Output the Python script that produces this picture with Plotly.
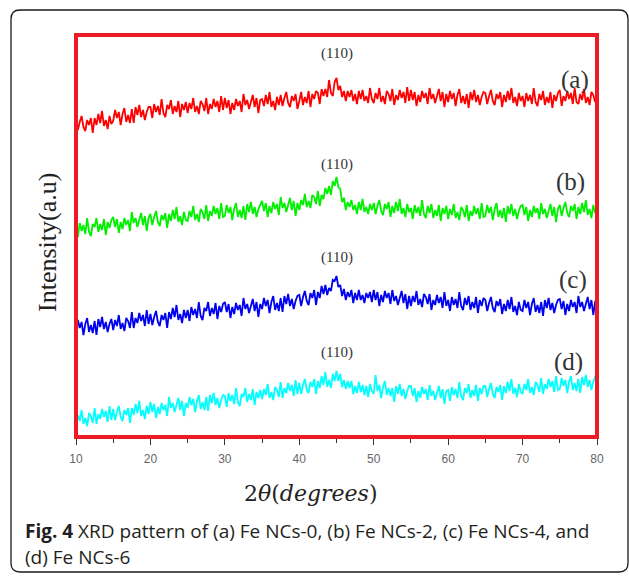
import numpy as np
import plotly.graph_objects as go

# XRD scans, 2-theta from 10 to 80 degrees in 0.25 degree steps (each row = 5 degrees)
fe_ncs_0 = [
    318, 307, 315, 321, 310, 306, 317, 312, 319, 304, 319, 312, 323, 314, 326, 311, 317, 308, 321, 313,
    316, 327, 319, 325, 312, 323, 329, 315, 322, 314, 328, 314, 330, 322, 332, 320, 327, 317, 325, 330,
    330, 319, 333, 325, 331, 322, 338, 324, 320, 332, 328, 337, 323, 331, 325, 336, 320, 333, 327, 335,
    324, 334, 328, 339, 325, 331, 323, 336, 333, 326, 339, 323, 333, 328, 338, 330, 336, 325, 341, 327,
    339, 329, 337, 323, 334, 327, 338, 331, 336, 325, 343, 332, 337, 328, 335, 342, 330, 339, 324, 337,
    338, 331, 342, 333, 345, 330, 336, 327, 340, 332, 342, 331, 339, 345, 334, 330, 341, 336, 343, 328,
    336, 345, 332, 340, 334, 346, 330, 343, 338, 346, 344, 333, 348, 341, 348, 340, 357, 344, 341, 355,
    359, 347, 351, 340, 346, 336, 346, 340, 347, 336, 343, 333, 346, 338, 347, 336, 341, 334, 349, 338,
    334, 344, 338, 349, 335, 341, 333, 346, 343, 336, 348, 332, 342, 337, 347, 339, 345, 334, 350, 336,
    347, 337, 345, 331, 342, 335, 346, 339, 344, 333, 349, 338, 343, 334, 341, 348, 336, 345, 330, 343,
    335, 346, 338, 344, 331, 342, 348, 334, 341, 333, 343, 329, 345, 337, 347, 335, 342, 332, 340, 345,
    344, 333, 341, 347, 336, 332, 343, 338, 345, 330, 342, 335, 346, 337, 349, 334, 340, 331, 344, 336,
    341, 330, 344, 336, 342, 333, 349, 335, 331, 343, 337, 346, 332, 340, 334, 345, 329, 342, 336, 344,
    347, 331, 341, 336, 346, 338, 344, 333, 349, 335, 333, 343, 337, 348, 334, 340, 332, 345, 342, 335,
    342,
]
fe_ncs_2 = [
    211, 200, 214, 206, 212, 203, 219, 205, 201, 213, 210, 219, 205, 213, 207, 218, 202, 215, 209, 217,
    220, 210, 218, 204, 215, 208, 219, 212, 217, 206, 225, 214, 219, 210, 217, 224, 212, 221, 206, 219,
    223, 212, 220, 226, 215, 211, 222, 217, 224, 209, 223, 216, 227, 218, 230, 215, 221, 212, 225, 217,
    216, 226, 220, 231, 217, 223, 215, 228, 225, 218, 232, 216, 226, 221, 231, 223, 229, 218, 234, 220,
    221, 232, 224, 230, 217, 228, 234, 220, 227, 219, 231, 217, 233, 225, 235, 223, 230, 220, 228, 233,
    236, 226, 234, 220, 231, 224, 235, 228, 233, 222, 240, 229, 234, 225, 232, 239, 227, 236, 221, 234,
    227, 237, 232, 243, 230, 236, 229, 242, 240, 233, 246, 231, 242, 238, 249, 243, 251, 242, 256, 251,
    260, 250, 248, 235, 239, 227, 235, 230, 237, 227, 232, 223, 235, 227, 238, 225, 230, 223, 233, 227,
    234, 223, 231, 237, 226, 222, 233, 228, 235, 220, 231, 224, 235, 226, 238, 223, 229, 220, 233, 225,
    229, 218, 232, 224, 230, 221, 237, 223, 219, 231, 224, 233, 219, 227, 221, 232, 216, 229, 223, 231,
    218, 228, 222, 233, 219, 225, 217, 230, 227, 220, 232, 216, 226, 221, 231, 223, 229, 218, 234, 220,
    221, 232, 224, 230, 217, 228, 234, 220, 227, 219, 229, 215, 231, 223, 233, 221, 228, 218, 226, 231,
    232, 222, 230, 216, 227, 220, 231, 224, 229, 218, 234, 223, 228, 219, 226, 233, 221, 230, 215, 228,
    232, 221, 229, 235, 224, 220, 231, 226, 233, 218, 230, 223, 234, 225, 237, 222, 228, 219, 232, 224,
    238,
]
fe_ncs_4 = [
    106, 117, 109, 115, 102, 113, 119, 105, 112, 104, 116, 102, 118, 110, 120, 108, 115, 105, 113, 118,
    107, 117, 111, 122, 108, 114, 106, 119, 116, 109, 125, 109, 119, 114, 124, 116, 122, 111, 127, 113,
    123, 112, 120, 126, 115, 111, 122, 117, 124, 109, 125, 118, 129, 120, 132, 117, 123, 114, 127, 119,
    127, 116, 130, 122, 128, 119, 135, 121, 117, 129, 126, 135, 121, 129, 123, 134, 118, 131, 125, 133,
    135, 125, 133, 119, 130, 123, 134, 127, 132, 121, 139, 128, 133, 124, 131, 138, 126, 135, 120, 133,
    128, 139, 131, 137, 124, 135, 141, 127, 134, 126, 139, 125, 141, 133, 143, 131, 138, 128, 136, 141,
    142, 131, 140, 146, 136, 132, 144, 139, 147, 132, 145, 139, 151, 143, 152, 142, 149, 146, 157, 156,
    161, 150, 152, 141, 148, 137, 145, 140, 147, 134, 144, 137, 147, 137, 142, 134, 144, 139, 145, 135,
    147, 137, 145, 131, 142, 135, 146, 139, 144, 133, 147, 136, 141, 132, 139, 146, 134, 143, 128, 141,
    131, 141, 135, 146, 132, 138, 130, 143, 140, 133, 143, 127, 137, 132, 142, 134, 140, 129, 145, 131,
    137, 126, 140, 132, 138, 129, 145, 131, 127, 139, 132, 141, 127, 135, 129, 140, 124, 137, 131, 139,
    137, 126, 134, 140, 129, 125, 136, 131, 138, 123, 133, 126, 137, 128, 140, 125, 131, 122, 135, 127,
    126, 137, 129, 135, 122, 133, 139, 125, 132, 124, 135, 121, 137, 129, 139, 127, 134, 124, 132, 137,
    138, 128, 136, 122, 133, 126, 137, 130, 135, 124, 141, 130, 135, 126, 133, 140, 128, 137, 122, 135,
    134,
]
fe_ncs_6 = [
    12, 22, 16, 27, 13, 19, 11, 24, 21, 14, 29, 13, 23, 18, 28, 20, 26, 15, 31, 17,
    28, 17, 25, 31, 20, 16, 27, 22, 29, 14, 29, 22, 33, 24, 36, 21, 27, 18, 31, 23,
    35, 25, 33, 19, 30, 23, 34, 27, 32, 21, 40, 29, 34, 25, 32, 39, 27, 36, 21, 34,
    29, 40, 32, 38, 25, 36, 42, 28, 35, 27, 40, 26, 42, 34, 44, 32, 39, 29, 37, 42,
    41, 30, 44, 36, 42, 33, 49, 35, 31, 43, 40, 49, 35, 43, 37, 48, 32, 45, 39, 47,
    38, 48, 42, 53, 39, 45, 37, 50, 47, 40, 55, 39, 49, 44, 54, 46, 52, 41, 57, 43,
    54, 43, 52, 58, 47, 44, 55, 50, 58, 43, 56, 49, 61, 52, 65, 50, 57, 49, 63, 56,
    66, 56, 63, 50, 57, 48, 56, 49, 56, 43, 51, 44, 55, 45, 52, 42, 51, 40, 53, 46,
    43, 62, 46, 52, 39, 50, 56, 42, 49, 41, 49, 35, 51, 43, 53, 41, 48, 38, 46, 51,
    51, 41, 49, 35, 46, 39, 50, 43, 48, 37, 52, 41, 46, 37, 44, 51, 39, 48, 33, 46,
    47, 36, 50, 42, 48, 39, 55, 41, 37, 49, 44, 53, 39, 47, 41, 52, 36, 49, 43, 51,
    51, 40, 48, 54, 43, 39, 50, 45, 52, 37, 51, 44, 55, 46, 58, 43, 49, 40, 53, 45,
    43, 53, 47, 58, 44, 50, 42, 55, 52, 45, 59, 43, 53, 48, 58, 50, 56, 45, 61, 47,
    48, 59, 51, 57, 44, 55, 61, 47, 54, 46, 58, 44, 60, 52, 62, 50, 57, 47, 55, 60,
    58,
]

series = [fe_ncs_0, fe_ncs_2, fe_ncs_4, fe_ncs_6]
series_tags = ["(a)", "(b)", "(c)", "(d)"]
series_colors = ["#ff0000", "#00f000", "#0000f0", "#00ffff"]
peak_label = "(110)"
peak_pos = 45.0
x_ticks = [10, 20, 30, 40, 50, 60, 70, 80]
x_tick_text = ["10", "20", "30", "40", "50", "60", "70", "80"]

W, H = 629, 576
L, R, T, B = 76, 597, 35, 437


def px(x):
    return (x - L) / (R - L)


def py(y):
    return (B - y) / (B - T)


fig = go.Figure()
for ys, col in zip(series, series_colors):
    tt = np.linspace(10, 80, len(ys))
    fig.add_trace(go.Scatter(x=tt, y=ys, mode="lines",
                             line=dict(color=col, width=1.8),
                             hoverinfo="skip", showlegend=False))

serif = "Liberation Serif, Times New Roman, serif"
ann = []
# (110) markers and sample tags
for tag_y, peak_y, tag, tx in zip([80, 182, 280, 362], [54, 164, 257, 352], series_tags,
                                   [575, 570, 573, 568]):
    ann.append(dict(x=peak_pos, xref="x", y=py(peak_y), yref="paper", text=peak_label,
                    showarrow=False, font=dict(family=serif, size=15, color="#333333"),
                    xanchor="center", yanchor="middle"))
    ann.append(dict(x=px(tx), xref="paper", y=py(tag_y), yref="paper", text=tag,
                    showarrow=False, font=dict(family=serif, size=25, color="#333333"),
                    xanchor="center", yanchor="middle"))

ann.append(dict(x=px(47), xref="paper", y=py(243), yref="paper", text="Intensity(a.u)",
                textangle=-90, showarrow=False,
                font=dict(family=serif, size=26, color="#222222"),
                xanchor="center", yanchor="middle"))
ann.append(dict(x=px(310), xref="paper", y=py(493), yref="paper",
                text="2<i>θ</i>(<i>degrees</i>)", showarrow=False,
                font=dict(family="DejaVu Serif, serif", size=22, color="#222222"),
                xanchor="center", yanchor="middle"))

sans = "Open Sans, Noto Sans, sans-serif"
ann.append(dict(x=px(23), xref="paper", y=py(531), yref="paper",
                text="<b>Fig. 4</b> XRD pattern of (a) Fe NCs-0, (b) Fe NCs-2, (c) Fe NCs-4, and",
                showarrow=False, font=dict(family=sans, size=19, color="#231f20"),
                xanchor="left", yanchor="middle"))
ann.append(dict(x=px(23), xref="paper", y=py(557), yref="paper",
                text="(d) Fe NCs-6", showarrow=False,
                font=dict(family=sans, size=19, color="#231f20"),
                xanchor="left", yanchor="middle"))

# rounded outer box
bx0, by0, bx1, by1, r = 11, 10, 628, 572, 9
ax0, ax1 = px(bx0), px(bx1)
ay0, ay1 = py(by0), py(by1)
rx = r / (R - L)
ry = r / (B - T)
box_path = (f"M {ax0 + rx},{ay0} L {ax1 - rx},{ay0} Q {ax1},{ay0} {ax1},{ay0 - ry} "
            f"L {ax1},{ay1 + ry} Q {ax1},{ay1} {ax1 - rx},{ay1} "
            f"L {ax0 + rx},{ay1} Q {ax0},{ay1} {ax0},{ay1 + ry} "
            f"L {ax0},{ay0 - ry} Q {ax0},{ay0} {ax0 + rx},{ay0} Z")

shapes = [
    dict(type="path", path=box_path, xref="paper", yref="paper",
         line=dict(color="#1a1a1a", width=1.3), layer="below"),
    dict(type="rect", x0=0, x1=1, y0=0, y1=1, xref="paper", yref="paper",
         line=dict(color="#ed1c24", width=4), layer="above"),
]

fig.update_layout(
    width=W, height=H,
    margin=dict(l=L, r=W - R, t=T, b=H - B),
    paper_bgcolor="white", plot_bgcolor="white",
    annotations=ann, shapes=shapes,
    xaxis=dict(range=[10, 80], tickmode="array", tickvals=x_ticks, ticktext=x_tick_text,
               ticks="outside", ticklen=7, tickwidth=1, tickcolor="#333333",
               showgrid=False, zeroline=False, showline=False,
               tickfont=dict(family="Liberation Sans, Arial, sans-serif", size=12, color="#666666"),
               ticklabelstandoff=4,
               minor=dict(tickvals=[15, 25, 35, 45, 55, 65, 75], ticks="outside", ticklen=5,
                          tickcolor="#333333", tickwidth=1, showgrid=False)),
    yaxis=dict(range=[0, B - T], showticklabels=False, ticks="", showgrid=False,
               zeroline=False, showline=False),
)

fig.write_html("out.html")
